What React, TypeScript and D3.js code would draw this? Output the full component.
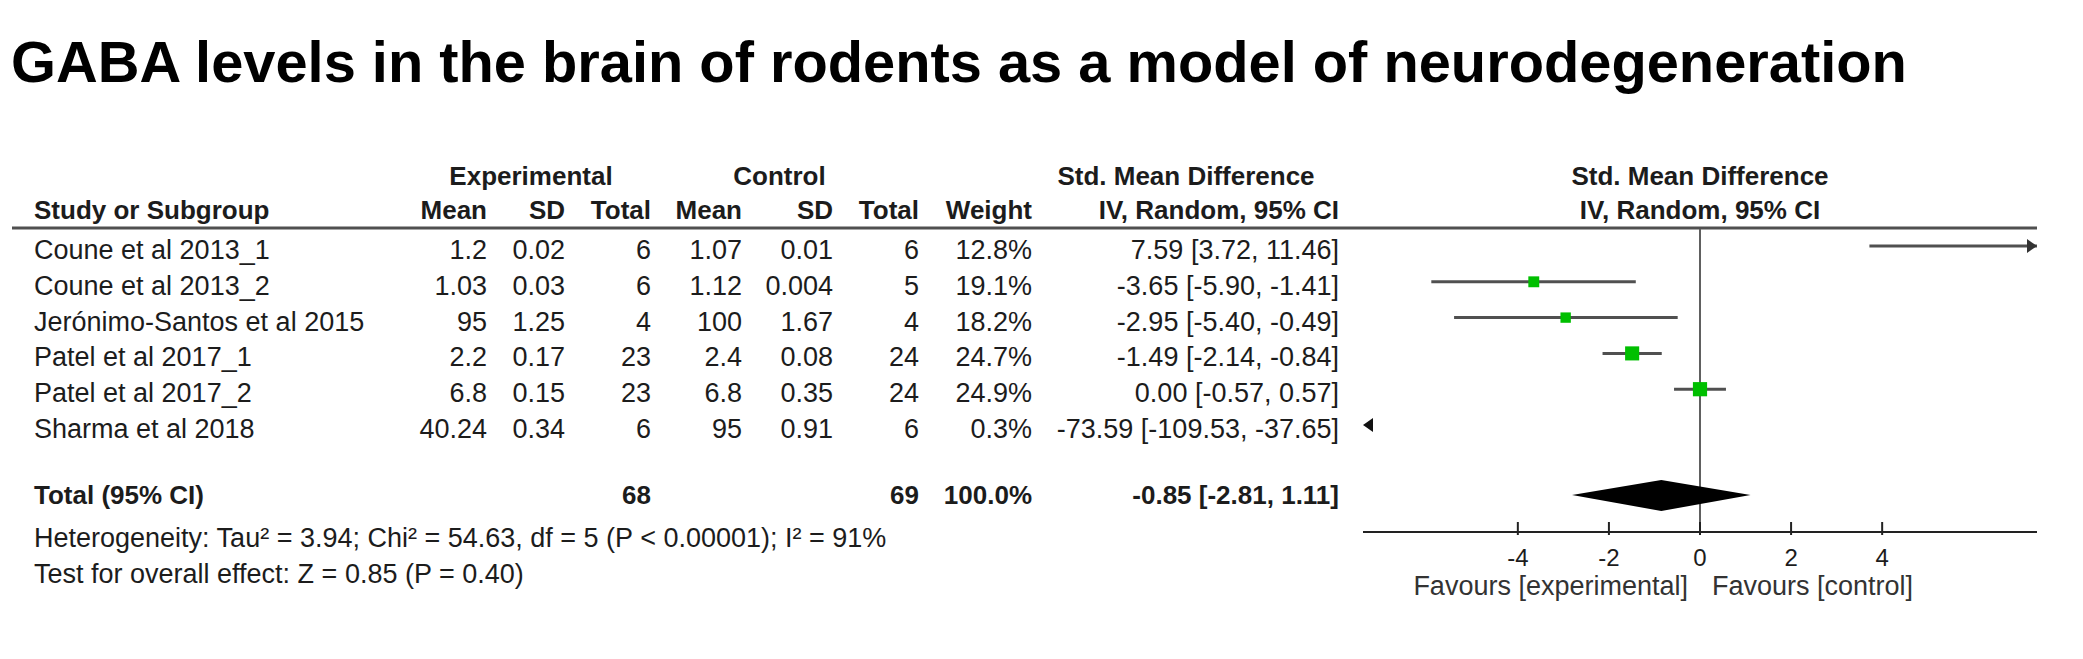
import * as d3 from 'd3';

// Study-level data
const studies = [
  'Coune et al 2013_1',
  'Coune et al 2013_2',
  'Jerónimo-Santos et al 2015',
  'Patel et al 2017_1',
  'Patel et al 2017_2',
  'Sharma et al 2018',
];
const expMean = [1.2, 1.03, 95, 2.2, 6.8, 40.24];
const expSD = [0.02, 0.03, 1.25, 0.17, 0.15, 0.34];
const expTotal = [6, 6, 4, 23, 23, 6];
const ctrlMean = [1.07, 1.12, 100, 2.4, 6.8, 95];
const ctrlSD = [0.01, 0.004, 1.67, 0.08, 0.35, 0.91];
const ctrlTotal = [6, 5, 4, 24, 24, 6];
const weights = [12.8, 19.1, 18.2, 24.7, 24.9, 0.3];
const smd = [7.59, -3.65, -2.95, -1.49, 0.0, -73.59];
const ciLow = [3.72, -5.9, -5.4, -2.14, -0.57, -109.53];
const ciHigh = [11.46, -1.41, -0.49, -0.84, 0.57, -37.65];

// Pooled result
const pooled = { smd: -0.85, low: -2.81, high: 1.11, expN: 68, ctrlN: 69, weight: 100.0 };

const axisTicks = [-4, -2, 0, 2, 4];
const heterogeneityText =
  'Heterogeneity: Tau² = 3.94; Chi² = 54.63, df = 5 (P < 0.00001); I² = 91%';
const overallText = 'Test for overall effect: Z = 0.85 (P = 0.40)';
const titleText = 'GABA levels in the brain of rodents as a model of neurodegeneration';

const WIDTH = 2083;
const HEIGHT = 659;
const FONT = '"Liberation Sans", Arial, sans-serif';
const FS = 27; // regular text
const FSB = 26; // bold headers
const TEXT = '#1c1c1c';
const LINE = '#505050';
const GREEN = '#00bf00';

// right edges of table columns
const COL = {
  study: 34,
  expMean: 487,
  expSD: 565,
  expTotal: 651,
  ctrlMean: 742,
  ctrlSD: 833,
  ctrlTotal: 919,
  weight: 1032,
  ci: 1339,
};

const fmtCI = (m: number, l: number, h: number) =>
  `${m.toFixed(2)} [${l.toFixed(2)}, ${h.toFixed(2)}]`;

export default function App() {
  const xScale = d3.scaleLinear().domain([-7.4, 7.4]).range([1363, 2037]);
  const yRow = d3.scaleLinear().domain([0, studies.length - 1]).range([246, 425]);
  const [xMin, xMax] = xScale.domain();
  const sizeScale = d3.scaleLinear().domain([0, 100]).range([0, 57]);

  const yTotal = 495;
  const yAxis = 532;
  const headerLineY = 228;

  const diamond = d3.line()([
    [xScale(pooled.low), yTotal],
    [xScale(pooled.smd), yTotal - 15],
    [xScale(pooled.high), yTotal],
    [xScale(pooled.smd), yTotal + 16],
  ]) + 'Z';

  const cell = (x: number, y: number, txt: string | number, bold = false, anchor = 'end') => (
    <text
      x={x}
      y={y}
      textAnchor={anchor}
      fontWeight={bold ? 'bold' : 'normal'}
      fontSize={bold ? FSB : FS}
      fill={TEXT}
    >
      {txt}
    </text>
  );

  return (
    <svg
      width={WIDTH}
      height={HEIGHT}
      style={{ position: 'absolute', left: 0, top: 0, background: '#fff' }}
      fontFamily={FONT}
    >
      {/* Title */}
      <text x={11} y={82} fontSize={57.8} fontWeight="bold" fill="#000">
        {titleText}
      </text>

      {/* Header row 1 */}
      {cell((COL.expMean + COL.expTotal) / 2 - 38, 185, 'Experimental', true, 'middle')}
      {cell((COL.ctrlMean + COL.ctrlSD) / 2 - 8, 185, 'Control', true, 'middle')}
      {cell(1186, 185, 'Std. Mean Difference', true, 'middle')}
      {cell(xScale(0), 185, 'Std. Mean Difference', true, 'middle')}

      {/* Header row 2 */}
      {cell(COL.study, 219, 'Study or Subgroup', true, 'start')}
      {cell(COL.expMean, 219, 'Mean', true)}
      {cell(COL.expSD, 219, 'SD', true)}
      {cell(COL.expTotal, 219, 'Total', true)}
      {cell(COL.ctrlMean, 219, 'Mean', true)}
      {cell(COL.ctrlSD, 219, 'SD', true)}
      {cell(COL.ctrlTotal, 219, 'Total', true)}
      {cell(COL.weight, 219, 'Weight', true)}
      {cell(COL.ci, 219, 'IV, Random, 95% CI', true)}
      {cell(xScale(0), 219, 'IV, Random, 95% CI', true, 'middle')}

      <line x1={12} x2={xScale(xMax)} y1={headerLineY} y2={headerLineY} stroke={LINE} strokeWidth={3} />

      {/* Study rows */}
      {studies.map((s, i) => {
        const yb = yRow(i) + 13;
        return (
          <g key={s}>
            {cell(COL.study, yb, s, false, 'start')}
            {cell(COL.expMean, yb, String(expMean[i]))}
            {cell(COL.expSD, yb, String(expSD[i]))}
            {cell(COL.expTotal, yb, String(expTotal[i]))}
            {cell(COL.ctrlMean, yb, String(ctrlMean[i]))}
            {cell(COL.ctrlSD, yb, String(ctrlSD[i]))}
            {cell(COL.ctrlTotal, yb, String(ctrlTotal[i]))}
            {cell(COL.weight, yb, `${weights[i].toFixed(1)}%`)}
            {cell(COL.ci, yb, fmtCI(smd[i], ciLow[i], ciHigh[i]))}
          </g>
        );
      })}

      {/* Zero line */}
      <line
        x1={xScale(0)}
        x2={xScale(0)}
        y1={headerLineY + 1}
        y2={yAxis}
        stroke="#606060"
        strokeWidth={2}
      />

      {/* Forest marks */}
      {studies.map((s, i) => {
        const yc = yRow(i);
        const lo = Math.max(ciLow[i], xMin);
        const hi = Math.min(ciHigh[i], xMax);
        const marks = [];
        if (hi > lo && ciHigh[i] > xMin && ciLow[i] < xMax) {
          marks.push(
            <line
              key="ci"
              x1={xScale(lo)}
              x2={xScale(hi)}
              y1={yc}
              y2={yc}
              stroke={LINE}
              strokeWidth={3}
            />
          );
        }
        if (ciHigh[i] > xMax) {
          const xe = xScale(xMax);
          marks.push(
            <path key="ra" d={`M${xe - 10},${yc - 7}L${xe},${yc}L${xe - 10},${yc + 7}Z`} fill="#333" />
          );
        }
        if (ciLow[i] < xMin) {
          const xs = xScale(xMin);
          marks.push(
            <path key="la" d={`M${xs + 10},${yc - 7}L${xs},${yc}L${xs + 10},${yc + 7}Z`} fill="#111" />
          );
        }
        if (smd[i] >= xMin && smd[i] <= xMax) {
          const sz = sizeScale(weights[i]);
          marks.push(
            <rect
              key="sq"
              x={xScale(smd[i]) - sz / 2}
              y={yc - sz / 2}
              width={sz}
              height={sz}
              fill={GREEN}
            />
          );
        }
        return <g key={s}>{marks}</g>;
      })}

      {/* Total row */}
      {cell(COL.study, yTotal + 9, 'Total (95% CI)', true, 'start')}
      {cell(COL.expTotal, yTotal + 9, String(pooled.expN), true)}
      {cell(COL.ctrlTotal, yTotal + 9, String(pooled.ctrlN), true)}
      {cell(COL.weight, yTotal + 9, `${pooled.weight.toFixed(1)}%`, true)}
      {cell(COL.ci, yTotal + 9, fmtCI(pooled.smd, pooled.low, pooled.high), true)}
      <path d={diamond} fill="#000" />

      {/* Footer text */}
      {cell(COL.study, 547, heterogeneityText, false, 'start')}
      {cell(COL.study, 583, overallText, false, 'start')}

      {/* Axis */}
      <line x1={xScale(xMin)} x2={xScale(xMax)} y1={yAxis} y2={yAxis} stroke="#222" strokeWidth={2} />
      {axisTicks.map((t) => (
        <g key={t}>
          <line x1={xScale(t)} x2={xScale(t)} y1={yAxis - 10} y2={yAxis + 3} stroke="#222" strokeWidth={2} />
          <text x={xScale(t)} y={566} textAnchor="middle" fontSize={24} fill={TEXT}>
            {t}
          </text>
        </g>
      ))}
      <text x={xScale(0) - 12} y={595} textAnchor="end" fontSize={FS} fill="#333">
        Favours [experimental]
      </text>
      <text x={xScale(0) + 12} y={595} textAnchor="start" fontSize={FS} fill="#333">
        Favours [control]
      </text>
    </svg>
  );
}
